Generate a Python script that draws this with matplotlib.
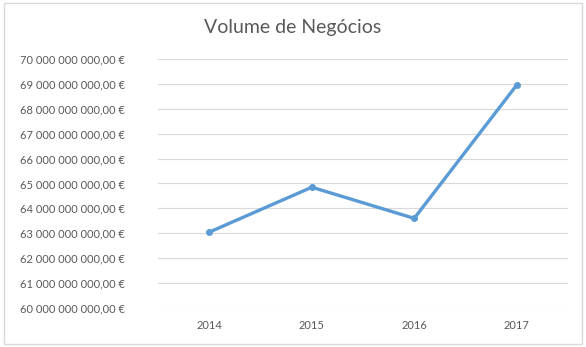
import matplotlib
matplotlib.use("Agg")
from matplotlib import pyplot as plt
from matplotlib.ticker import FuncFormatter

years = ["2014", "2015", "2016", "2017"]
volume = [63050000000, 64850000000, 63600000000, 68950000000]
y_ticks = [60e9 + i * 1e9 for i in range(11)]


def euro(v, pos):
    s = "{:,.2f}".format(v)
    s = s.replace(",", " ").replace(".", ",")
    return s + " €"


plt.rcParams["font.family"] = ["Lato", "DejaVu Sans"]

fig = plt.figure(figsize=(5.86, 3.47), dpi=100)
ax = fig.add_axes([0.27, 0.1124, 0.699, 0.7176])

xs = range(len(years))
ax.plot(xs, volume, color="#5B9BD5", linewidth=2.4, marker="o", markersize=4,
        solid_joinstyle="round", zorder=3)

ax.set_xlim(-0.5, len(years) - 0.5)
ax.set_ylim(60e9, 70e9)
ax.set_yticks(y_ticks)
ax.yaxis.set_major_formatter(FuncFormatter(euro))
ax.set_xticks(list(xs))
ax.set_xticklabels(years)
ax.grid(axis="y", color="#d9d9d9", linewidth=0.8)
ax.set_axisbelow(True)
for side in ["top", "right", "left", "bottom"]:
    ax.spines[side].set_visible(False)
ax.tick_params(length=0, labelsize=8, labelcolor="#595959")
ax.tick_params(axis="y", pad=24)
ax.tick_params(axis="x", pad=9)

fig.text(0.5, 0.92, "Volume de Negócios", ha="center", va="center",
         fontsize=14, color="#595959")

border = plt.Rectangle((0.006, 0.01), 0.988, 0.98, transform=fig.transFigure,
                       fill=False, edgecolor="#d9d9d9", linewidth=1)
fig.patches.append(border)

fig.savefig("out.png", dpi=100, facecolor="white")
